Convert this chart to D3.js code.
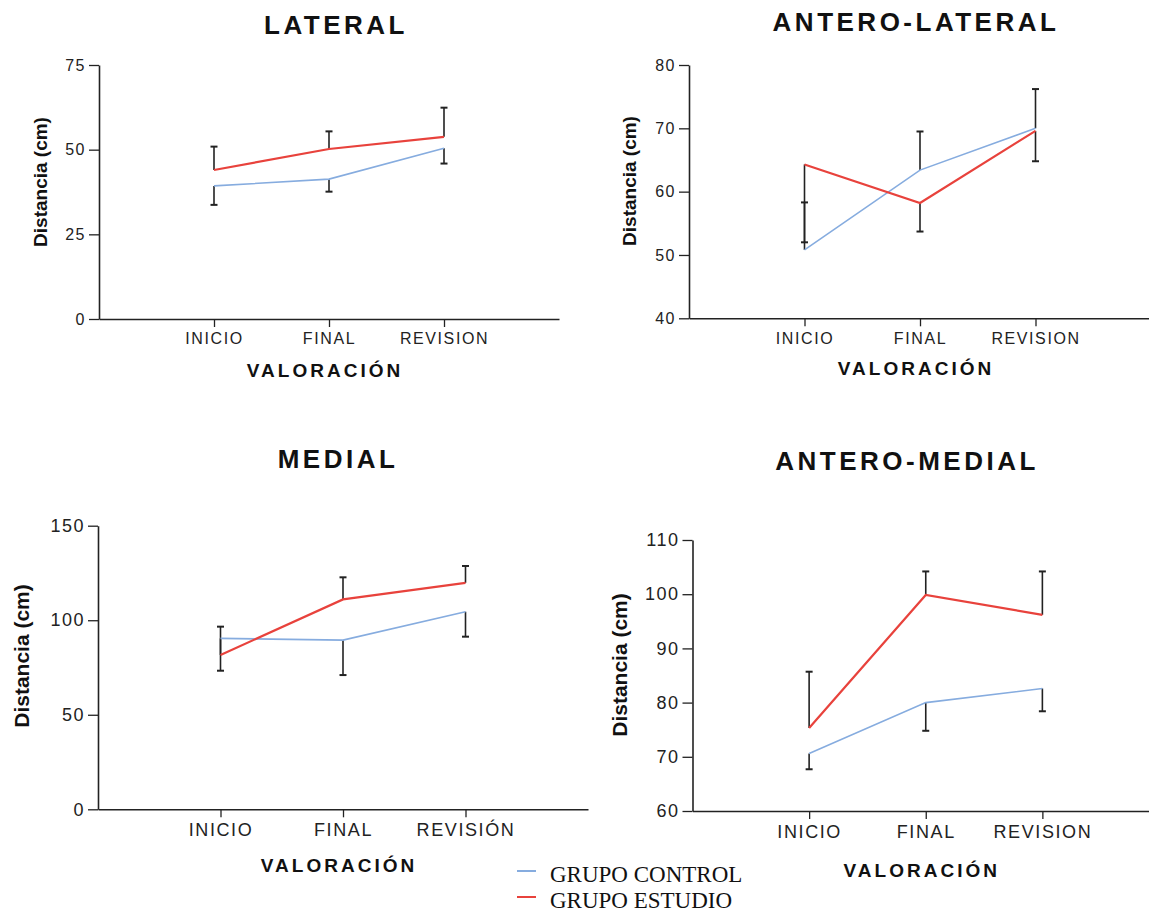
<!DOCTYPE html>
<html>
<head>
<meta charset="utf-8">
<script src="https://cdn.jsdelivr.net/npm/d3@7"></script>
<style>
  html, body { margin: 0; padding: 0; background: #fff; }
  svg { display: block; }
</style>
</head>
<body>
<svg id="chart" width="1149" height="912"></svg>
<script>
// ---------- DATA ----------
const categories = ["INICIO", "FINAL", "REVISION"];
const categoriesMedial = ["INICIO", "FINAL", "REVISIÓN"];

// LATERAL
const lateralControl = [39.3, 41.3, 50.4];
const lateralControlBound = [33.7, 37.6, 45.9];   // error bar end (downwards)
const lateralEstudio = [44.0, 50.2, 53.8];
const lateralEstudioBound = [50.9, 55.4, 62.4];   // error bar end (upwards)
const lateralTicks = [0, 25, 50, 75];

// ANTERO-LATERAL
const anteroLateralControl = [50.8, 63.4, 70.0];
const anteroLateralControlBound = [58.3, 69.5, 76.2];
const anteroLateralEstudio = [64.3, 58.2, 69.6];
const anteroLateralEstudioBound = [52.0, 53.7, 64.8];
const anteroLateralTicks = [40, 50, 60, 70, 80];

// MEDIAL
const medialControl = [90.4, 89.5, 104.5];
const medialControlBound = [73.3, 71.0, 91.3];
const medialEstudio = [81.6, 111.0, 119.8];
const medialEstudioBound = [96.6, 122.7, 128.7];
const medialTicks = [0, 50, 100, 150];

// ANTERO-MEDIAL
const anteroMedialControl = [70.6, 80.0, 82.6];
const anteroMedialControlBound = [67.7, 74.8, 78.4];
const anteroMedialEstudio = [75.3, 99.85, 96.2];
const anteroMedialEstudioBound = [85.7, 104.2, 104.2];
const anteroMedialTicks = [60, 70, 80, 90, 100, 110];

const legendLabels = ["GRUPO CONTROL", "GRUPO ESTUDIO"];

// ---------- STYLE ----------
const COLOR_CONTROL = "#86acdf";
const COLOR_ESTUDIO = "#e8423c";
const AXIS = "#222";

const svg = d3.select("#chart");

function panel(cfg) {
  const g = svg.append("g");
  const x = d3.scaleLinear().domain([0, 4]).range([cfg.x0, cfg.x1]);
  const y = d3.scaleLinear().domain(d3.extent(cfg.ticks)).range([cfg.yb, cfg.yt]);

  // y axis
  const yAxis = d3.axisLeft(y).tickValues(cfg.ticks).tickSize(10).tickSizeOuter(0).tickPadding(3);
  const ya = g.append("g").attr("transform", `translate(${cfg.x0},0)`).call(yAxis);
  ya.select(".domain").attr("stroke", AXIS).attr("stroke-width", 1.6);
  ya.selectAll(".tick line").attr("stroke", AXIS).attr("stroke-width", 1.3);
  ya.selectAll(".tick text")
    .attr("font-family", "Arial, 'Liberation Sans', sans-serif")
    .attr("font-size", cfg.tickFont)
    .style("letter-spacing", "1.5px")
    .attr("fill", "#222");

  // x axis: baseline + category ticks
  const xAxis = d3.axisBottom(x).tickValues([1, 2, 3])
    .tickFormat((d) => cfg.cats[d - 1]).tickSize(8).tickSizeOuter(0).tickPadding(6);
  const xa = g.append("g").attr("transform", `translate(0,${cfg.yb})`).call(xAxis);
  xa.select(".domain").attr("stroke", AXIS).attr("stroke-width", 1.6);
  xa.selectAll(".tick line").attr("stroke", AXIS).attr("stroke-width", 1.3);
  xa.selectAll(".tick text")
    .attr("font-family", "Arial, 'Liberation Sans', sans-serif")
    .attr("font-size", cfg.tickFont)
    .style("letter-spacing", "1.6px")
    .attr("fill", "#222");

  const idx = [0, 1, 2];
  const line = d3.line().x((d) => x(d + 1));

  function series(vals, bounds, color, width) {
    g.append("g").selectAll("line").data(idx).join("line")
      .attr("x1", (i) => x(i + 1)).attr("x2", (i) => x(i + 1))
      .attr("y1", (i) => y(vals[i])).attr("y2", (i) => y(bounds[i]))
      .attr("stroke", "#222").attr("stroke-width", 1.6);
    g.append("g").selectAll("line").data(idx).join("line")
      .attr("x1", (i) => x(i + 1) - 3.5).attr("x2", (i) => x(i + 1) + 3.5)
      .attr("y1", (i) => y(bounds[i])).attr("y2", (i) => y(bounds[i]))
      .attr("stroke", "#222").attr("stroke-width", 2);
    return () => g.append("path")
      .attr("d", line.y((i) => y(vals[i]))(idx))
      .attr("fill", "none").attr("stroke", color).attr("stroke-width", width);
  }
  const drawC = series(cfg.control, cfg.controlBound, COLOR_CONTROL, 1.6);
  const drawE = series(cfg.estudio, cfg.estudioBound, COLOR_ESTUDIO, 2.2);
  drawC();
  drawE();

  // title
  g.append("text").attr("x", cfg.titleX).attr("y", cfg.titleY)
    .attr("text-anchor", "middle")
    .attr("font-family", "Arial, 'Liberation Sans', sans-serif")
    .attr("font-weight", "bold").attr("font-size", 26)
    .style("letter-spacing", "3.5px")
    .attr("fill", "#111").text(cfg.title);

  // x title
  g.append("text").attr("x", x(2) - 4).attr("y", cfg.xTitleY)
    .attr("text-anchor", "middle")
    .attr("font-family", "Arial, 'Liberation Sans', sans-serif")
    .attr("font-weight", "bold").attr("font-size", cfg.xTitleFont)
    .style("letter-spacing", "3px")
    .attr("fill", "#111").text("VALORACIÓN");

  // y title
  g.append("text")
    .attr("transform", `translate(${cfg.yTitleX},${cfg.yTitleY}) rotate(-90)`)
    .attr("text-anchor", "middle")
    .attr("font-family", "Arial, 'Liberation Sans', sans-serif")
    .attr("font-weight", "bold").attr("font-size", cfg.yTitleFont)
    .attr("fill", "#111").text("Distancia (cm)");
}

panel({
  title: "LATERAL", titleX: 336, titleY: 34,
  cats: categories, ticks: lateralTicks,
  x0: 99, x1: 559, yb: 319, yt: 65,
  control: lateralControl, controlBound: lateralControlBound,
  estudio: lateralEstudio, estudioBound: lateralEstudioBound,
  tickFont: 16, xTitleY: 377, xTitleFont: 19,
  yTitleX: 47, yTitleY: 182, yTitleFont: 19
});
panel({
  title: "ANTERO-LATERAL", titleX: 916, titleY: 31,
  cats: categories, ticks: anteroLateralTicks,
  x0: 689, x1: 1151, yb: 318.3, yt: 65,
  control: anteroLateralControl, controlBound: anteroLateralControlBound,
  estudio: anteroLateralEstudio, estudioBound: anteroLateralEstudioBound,
  tickFont: 16, xTitleY: 375, xTitleFont: 19,
  yTitleX: 636, yTitleY: 181, yTitleFont: 19
});
panel({
  title: "MEDIAL", titleX: 338, titleY: 468,
  cats: categoriesMedial, ticks: medialTicks,
  x0: 98, x1: 588, yb: 809.3, yt: 525.7,
  control: medialControl, controlBound: medialControlBound,
  estudio: medialEstudio, estudioBound: medialEstudioBound,
  tickFont: 18, xTitleY: 872, xTitleFont: 19,
  yTitleX: 29, yTitleY: 656, yTitleFont: 21
});
panel({
  title: "ANTERO-MEDIAL", titleX: 907, titleY: 470,
  cats: categories, ticks: anteroMedialTicks,
  x0: 692.5, x1: 1159, yb: 811, yt: 540,
  control: anteroMedialControl, controlBound: anteroMedialControlBound,
  estudio: anteroMedialEstudio, estudioBound: anteroMedialEstudioBound,
  tickFont: 18, xTitleY: 877, xTitleFont: 19,
  yTitleX: 627, yTitleY: 665, yTitleFont: 21
});

// legend
const legend = svg.append("g");
const legendColors = [COLOR_CONTROL, COLOR_ESTUDIO];
const legendY = d3.scalePoint().domain(legendLabels).range([875, 901]);
legend.selectAll("line").data(legendLabels).join("line")
  .attr("x1", 517).attr("x2", 536)
  .attr("y1", (d) => legendY(d) - 4).attr("y2", (d) => legendY(d) - 4)
  .attr("stroke", (d, i) => legendColors[i]).attr("stroke-width", 2);
legend.selectAll("text").data(legendLabels).join("text")
  .attr("x", 550).attr("y", (d) => legendY(d) + 7)
  .attr("font-family", "'Liberation Serif', 'Times New Roman', serif")
  .attr("font-size", 23).attr("fill", "#111").text((d) => d);
</script>
</body>
</html>
